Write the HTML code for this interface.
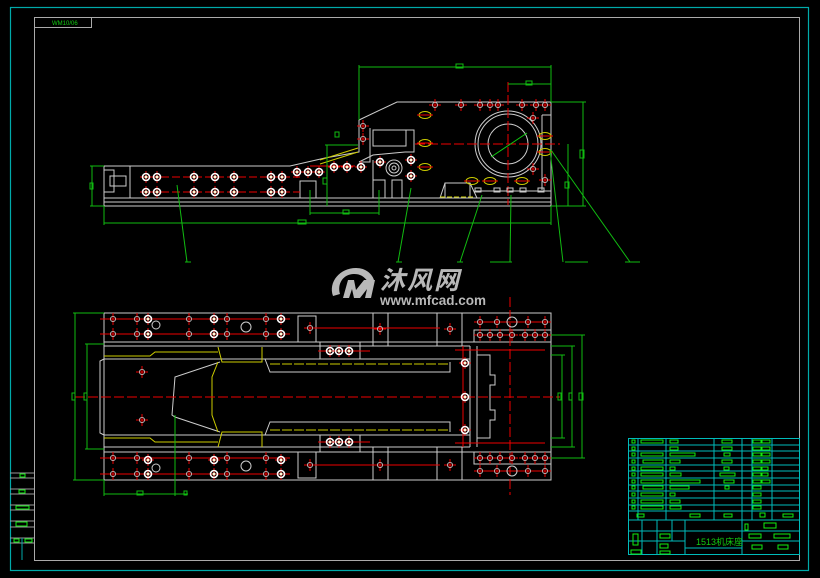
<!DOCTYPE html>
<html><head><meta charset="utf-8"><style>
html,body{margin:0;padding:0;background:#000;}
svg{display:block;}
</style></head><body>
<svg width="820" height="578" viewBox="0 0 820 578" xmlns="http://www.w3.org/2000/svg" font-family="Liberation Sans, sans-serif">
<defs>
<g id="h"><line x1="-6" y1="0" x2="6" y2="0" stroke="#e00" stroke-width="1"/><line x1="0" y1="-6" x2="0" y2="6" stroke="#e00" stroke-width="1"/><circle r="3.5" fill="none" stroke="#fff" stroke-width="1.6"/><circle r="1.5" fill="#ffd"/></g>
<g id="s"><line x1="-6" y1="0" x2="6" y2="0" stroke="#e00"/><line x1="0" y1="-6" x2="0" y2="6" stroke="#e00"/><circle r="2.6" fill="none" stroke="#ccc" stroke-width="0.8"/></g>
<g id="o"><ellipse rx="6" ry="3.5" fill="none" stroke="#cc0" stroke-width="1"/><line x1="-8" y1="0" x2="8" y2="0" stroke="#e00"/></g>
</defs>
<rect width="820" height="578" fill="#000"/>
<!-- frames -->
<rect x="10.5" y="7.5" width="798" height="563" fill="none" stroke="#0aa" stroke-width="1.2"/>
<rect x="34.5" y="17.5" width="765" height="543" fill="none" stroke="#aaa" stroke-width="1"/>
<rect x="34.5" y="17.5" width="57" height="10" fill="none" stroke="#aaa"/>
<text x="52" y="25" font-size="6" fill="#1c1">WM10/06</text>
<!-- left table -->
<g stroke="#999" fill="none">
<line x1="10" y1="473" x2="34" y2="473"/><line x1="10" y1="478" x2="34" y2="478"/>
<line x1="10" y1="489" x2="34" y2="489"/><line x1="10" y1="494" x2="34" y2="494"/>
<line x1="10" y1="505" x2="34" y2="505"/><line x1="10" y1="510" x2="34" y2="510"/>
<line x1="10" y1="521" x2="34" y2="521"/><line x1="10" y1="527" x2="34" y2="527"/>
<line x1="10" y1="538" x2="34" y2="538"/><line x1="10" y1="543" x2="34" y2="543"/>
<line x1="22" y1="538" x2="22" y2="560" stroke="#0aa"/>
</g>
<g fill="none" stroke="#1e1"><rect x="20" y="474" width="5" height="3"/><rect x="19" y="490" width="6" height="3"/><rect x="16" y="506" width="13" height="3"/><rect x="16" y="522" width="11" height="4"/><rect x="14" y="539" width="5" height="3"/><rect x="25" y="539" width="7" height="3"/></g>

<!-- ===== TOP VIEW ===== -->
<g fill="none" stroke="#ccc" stroke-width="1">
<polyline points="104,166 290,166 325,158 359,152 359,120 397,102 551,102 551,206"/>
<line x1="104" y1="166" x2="104" y2="206"/>
<line x1="104" y1="198" x2="551" y2="198"/>
<line x1="104" y1="202" x2="551" y2="202"/>
<line x1="104" y1="206" x2="551" y2="206"/>
<line x1="130" y1="166" x2="130" y2="198"/>
<rect x="373" y="130" width="33" height="16"/>
<polyline points="370,128 370,162 359,162"/>
<polyline points="404,130 414,130 414,152 405,152"/>
<polyline points="359,162 373,155 405,152"/>
<line x1="373" y1="160" x2="373" y2="198"/>
<rect x="300" y="181" width="16" height="17"/><rect x="373" y="180" width="12" height="18"/><rect x="392" y="180" width="10" height="18"/>
<polyline points="440,198 445,183 470,183 477,198"/><rect x="445" y="183" width="25" height="15"/>
<line x1="475" y1="191" x2="551" y2="191"/>
<line x1="542" y1="115" x2="551" y2="115"/><line x1="542" y1="115" x2="542" y2="190"/>
<circle cx="508" cy="144" r="33"/><circle cx="508" cy="144" r="30"/><circle cx="508" cy="144" r="20"/>
<circle cx="394" cy="168" r="8"/><circle cx="394" cy="168" r="5"/><circle cx="394" cy="168" r="2"/>
<rect x="104" y="170" width="10" height="22"/><rect x="110" y="176" width="16" height="10"/>
</g>
<g stroke="#e00" stroke-width="1">
<line x1="150" y1="177" x2="300" y2="177" stroke-dasharray="8,3"/>
<line x1="150" y1="192" x2="300" y2="192" stroke-dasharray="8,3"/>
<line x1="415" y1="144" x2="560" y2="144" stroke-dasharray="10,3"/>
<line x1="508" y1="82" x2="508" y2="205" stroke-dasharray="10,3"/>
<line x1="310" y1="166" x2="355" y2="166"/>
</g>
<line x1="491" y1="157" x2="527" y2="133" stroke="#1c1"/>
<g fill="none" stroke="#cc0"><line x1="320" y1="160" x2="358" y2="148"/><line x1="320" y1="164" x2="358" y2="152"/><line x1="440" y1="197" x2="475" y2="197" stroke-dasharray="5,2"/></g>
<g>
<use href="#h" x="146" y="177"/><use href="#h" x="157" y="177"/><use href="#h" x="194" y="177"/><use href="#h" x="215" y="177"/><use href="#h" x="234" y="177"/><use href="#h" x="271" y="177"/><use href="#h" x="282" y="177"/>
<use href="#h" x="146" y="192"/><use href="#h" x="157" y="192"/><use href="#h" x="194" y="192"/><use href="#h" x="215" y="192"/><use href="#h" x="234" y="192"/><use href="#h" x="271" y="192"/><use href="#h" x="282" y="192"/>
<use href="#h" x="297" y="172"/><use href="#h" x="308" y="172"/><use href="#h" x="319" y="172"/>
<use href="#h" x="334" y="167"/><use href="#h" x="347" y="167"/><use href="#h" x="361" y="167"/>
<use href="#h" x="380" y="162"/><use href="#h" x="411" y="160"/><use href="#h" x="411" y="176"/>
<use href="#s" x="363" y="126"/><use href="#s" x="363" y="139"/><use href="#s" x="435" y="105"/><use href="#s" x="461" y="105"/><use href="#s" x="480" y="105"/><use href="#s" x="490" y="105"/><use href="#s" x="498" y="105"/><use href="#s" x="522" y="105"/><use href="#s" x="536" y="105"/><use href="#s" x="545" y="105"/>
<use href="#s" x="533" y="118"/><use href="#s" x="533" y="169"/><use href="#s" x="545" y="180"/>
<use href="#o" x="425" y="115"/><use href="#o" x="545" y="136"/><use href="#o" x="545" y="152"/><use href="#o" x="472" y="181"/><use href="#o" x="490" y="181"/><use href="#o" x="522" y="181"/><use href="#o" x="425" y="143"/><use href="#o" x="425" y="167"/>
</g>
<g fill="none" stroke="#ccc"><rect x="475" y="188" width="6" height="4"/><rect x="494" y="188" width="6" height="4"/><rect x="507" y="188" width="6" height="4"/><rect x="520" y="188" width="6" height="4"/><rect x="538" y="188" width="6" height="4"/></g>
<!-- top view dims -->
<g stroke="#1b1" fill="none" stroke-width="1">
<line x1="359" y1="67" x2="551" y2="67"/><line x1="359" y1="65" x2="359" y2="120"/><line x1="551" y1="65" x2="551" y2="102"/>
<rect x="456" y="64" width="7" height="4"/>
<line x1="508" y1="84" x2="551" y2="84"/><rect x="526" y="81" width="6" height="4"/>
<line x1="104" y1="223" x2="551" y2="223"/><line x1="104" y1="206" x2="104" y2="225"/><line x1="551" y1="206" x2="551" y2="225"/><rect x="298" y="220" width="8" height="4"/>
<line x1="310" y1="213" x2="379" y2="213"/><line x1="310" y1="190" x2="310" y2="215"/><line x1="379" y1="190" x2="379" y2="215"/><rect x="343" y="210" width="6" height="4"/>
<line x1="92" y1="166" x2="92" y2="206"/><line x1="90" y1="166" x2="104" y2="166"/><line x1="90" y1="206" x2="104" y2="206"/><rect x="90" y="183" width="3" height="6"/>
<line x1="583" y1="102" x2="583" y2="206"/><line x1="551" y1="102" x2="586" y2="102"/><line x1="551" y1="206" x2="586" y2="206"/><rect x="580" y="150" width="4" height="8"/>
<line x1="568" y1="144" x2="568" y2="206"/><rect x="565" y="182" width="4" height="6"/>
<line x1="327" y1="145" x2="327" y2="206"/><line x1="325" y1="145" x2="358" y2="145"/><rect x="335" y="132" width="4" height="5"/><rect x="323" y="178" width="4" height="6"/>
<line x1="177" y1="185" x2="187" y2="262"/>
<line x1="411" y1="188" x2="398" y2="262"/>
<line x1="482" y1="195" x2="460" y2="262"/>
<line x1="511" y1="195" x2="510" y2="262"/>
<line x1="550" y1="150" x2="563" y2="262"/>
<line x1="551" y1="150" x2="630" y2="262"/>
<line x1="185" y1="262" x2="191" y2="262"/><line x1="396" y1="262" x2="402" y2="262"/><line x1="457" y1="262" x2="463" y2="262"/><line x1="490" y1="262" x2="512" y2="262"/><line x1="565" y1="262" x2="588" y2="262"/><line x1="625" y1="262" x2="640" y2="262"/>
</g>

<!-- watermark -->
<g fill="#b8b8b8">
<path d="M333 296 C328 282 340 268 356 268 C366 268 372 274 374 280 L368 282 C364 276 360 274 354 274 C343 274 337 284 340 294 Z"/>
<path d="M343 298 L348 280 L354 280 L356 290 L364 280 L375 280 L371 298 L365 298 L367 289 L360 298 L354 298 L352 289 L349 298 Z"/>
<text x="380" y="289" font-size="25" font-weight="bold" font-style="italic" font-family="Liberation Sans, Noto Sans CJK SC, sans-serif" letter-spacing="2">沐风网</text>
<text x="380" y="305" font-size="13.5" font-weight="bold">www.mfcad.com</text>
</g>

<!-- ===== BOTTOM VIEW ===== -->
<g fill="none" stroke="#ccc" stroke-width="1">
<rect x="104" y="313" width="447" height="167"/>
<line x1="104" y1="342" x2="551" y2="342"/><line x1="104" y1="346" x2="470" y2="346"/>
<line x1="104" y1="447" x2="470" y2="447"/><line x1="104" y1="452" x2="551" y2="452"/>
<polyline points="104,359 100,361 100,433 104,435"/>
<line x1="104" y1="359" x2="470" y2="359"/><line x1="104" y1="435" x2="470" y2="435"/>
<polyline points="265,359 270,372 450,372 450,362"/>
<polyline points="265,435 270,422 450,422 450,432"/>
<polyline points="220,362 175,377 172,415 175,417 220,432"/>
<rect x="320" y="435" width="40" height="17"/><rect x="320" y="342" width="40" height="17"/>
<rect x="298" y="316" width="18" height="26"/><rect x="298" y="452" width="18" height="26"/>
<rect x="373" y="313" width="15" height="33"/><rect x="373" y="447" width="15" height="33"/>
<rect x="437" y="313" width="25" height="33"/><rect x="437" y="447" width="25" height="33"/>
<line x1="470" y1="346" x2="470" y2="447"/><line x1="477" y1="346" x2="477" y2="447"/>
<polyline points="477,355 490,355 490,375 495,375 495,385 490,385 490,410 495,410 495,420 490,420 490,438 477,438"/>
<rect x="474" y="330" width="77" height="12"/><rect x="474" y="452" width="77" height="12"/>
</g>
<g fill="none" stroke="#cc0" stroke-width="1">
<polyline points="104,356 150,356 155,352 218,352"/><polyline points="104,438 150,438 155,442 218,442"/>
<polyline points="218,347 222,362 262,362 262,347"/><polyline points="218,447 222,432 262,432 262,447"/>
<polyline points="218,362 212,377 212,415 218,432"/>
<line x1="270" y1="364" x2="450" y2="364" stroke-dasharray="10,2"/><line x1="270" y1="430" x2="450" y2="430" stroke-dasharray="10,2"/>
</g>
<g stroke="#e00" stroke-width="1">
<line x1="75" y1="397" x2="560" y2="397" stroke-dasharray="10,3"/>
<line x1="510" y1="297" x2="510" y2="495" stroke-dasharray="10,3"/>
<line x1="100" y1="319" x2="290" y2="319"/><line x1="100" y1="334" x2="290" y2="334"/>
<line x1="100" y1="458" x2="290" y2="458"/><line x1="100" y1="474" x2="290" y2="474"/>
<line x1="475" y1="322" x2="551" y2="322"/><line x1="475" y1="471" x2="551" y2="471"/>
<line x1="318" y1="351" x2="370" y2="351"/><line x1="318" y1="442" x2="370" y2="442"/>
<line x1="463" y1="346" x2="463" y2="447"/>
<line x1="310" y1="328" x2="440" y2="328"/><line x1="310" y1="465" x2="440" y2="465"/>
<line x1="455" y1="350" x2="545" y2="350"/><line x1="455" y1="443" x2="545" y2="443"/>
</g>
<g>
<use href="#s" x="113" y="319"/><use href="#s" x="137" y="319"/><use href="#h" x="148" y="319"/><use href="#s" x="189" y="319"/><use href="#h" x="214" y="319"/><use href="#s" x="227" y="319"/><use href="#s" x="266" y="319"/><use href="#h" x="281" y="319"/>
<use href="#s" x="113" y="334"/><use href="#s" x="137" y="334"/><use href="#h" x="148" y="334"/><use href="#s" x="189" y="334"/><use href="#h" x="214" y="334"/><use href="#s" x="227" y="334"/><use href="#s" x="266" y="334"/><use href="#h" x="281" y="334"/>
<use href="#s" x="113" y="458"/><use href="#s" x="137" y="458"/><use href="#h" x="148" y="460"/><use href="#s" x="189" y="458"/><use href="#h" x="214" y="460"/><use href="#s" x="227" y="458"/><use href="#s" x="266" y="458"/><use href="#h" x="281" y="460"/>
<use href="#s" x="113" y="474"/><use href="#s" x="137" y="474"/><use href="#h" x="148" y="474"/><use href="#s" x="189" y="474"/><use href="#h" x="214" y="474"/><use href="#s" x="227" y="474"/><use href="#s" x="266" y="474"/><use href="#h" x="281" y="474"/>
<use href="#h" x="330" y="351"/><use href="#h" x="339" y="351"/><use href="#h" x="349" y="351"/>
<use href="#h" x="330" y="442"/><use href="#h" x="339" y="442"/><use href="#h" x="349" y="442"/>
<use href="#h" x="465" y="363"/><use href="#h" x="465" y="397"/><use href="#h" x="465" y="430"/>
<use href="#s" x="142" y="372"/><use href="#s" x="142" y="420"/>
<use href="#s" x="310" y="328"/><use href="#s" x="310" y="465"/><use href="#s" x="380" y="329"/><use href="#s" x="380" y="465"/><use href="#s" x="450" y="329"/><use href="#s" x="450" y="465"/>
<use href="#s" x="480" y="322"/><use href="#s" x="497" y="322"/><use href="#s" x="528" y="322"/><use href="#s" x="545" y="322"/>
<use href="#s" x="480" y="471"/><use href="#s" x="497" y="471"/><use href="#s" x="528" y="471"/><use href="#s" x="545" y="471"/>
<use href="#s" x="480" y="335"/><use href="#s" x="490" y="335"/><use href="#s" x="500" y="335"/><use href="#s" x="512" y="335"/><use href="#s" x="525" y="335"/><use href="#s" x="535" y="335"/><use href="#s" x="545" y="335"/>
<use href="#s" x="480" y="458"/><use href="#s" x="490" y="458"/><use href="#s" x="500" y="458"/><use href="#s" x="512" y="458"/><use href="#s" x="525" y="458"/><use href="#s" x="535" y="458"/><use href="#s" x="545" y="458"/>
</g>
<g fill="none" stroke="#ccc"><circle cx="156" cy="325" r="4"/><circle cx="246" cy="327" r="5"/><circle cx="156" cy="468" r="4"/><circle cx="246" cy="466" r="5"/><circle cx="512" cy="322" r="5"/><circle cx="512" cy="471" r="5"/></g>
<!-- bottom dims -->
<g stroke="#1b1" fill="none">
<line x1="75" y1="313" x2="75" y2="480"/><line x1="73" y1="313" x2="104" y2="313"/><line x1="73" y1="480" x2="104" y2="480"/><rect x="72" y="393" width="3" height="7"/>
<line x1="87" y1="344" x2="87" y2="449"/><line x1="85" y1="344" x2="104" y2="344"/><line x1="85" y1="449" x2="104" y2="449"/><rect x="84" y="393" width="3" height="7"/>
<line x1="582" y1="335" x2="582" y2="458"/><line x1="551" y1="335" x2="585" y2="335"/><line x1="551" y1="458" x2="585" y2="458"/><rect x="579" y="393" width="4" height="7"/>
<line x1="572" y1="346" x2="572" y2="447"/><line x1="551" y1="346" x2="575" y2="346"/><line x1="551" y1="447" x2="575" y2="447"/><rect x="569" y="393" width="3" height="7"/>
<line x1="562" y1="355" x2="562" y2="438"/><line x1="551" y1="355" x2="565" y2="355"/><line x1="551" y1="438" x2="565" y2="438"/><rect x="558" y="393" width="3" height="7"/>
<line x1="175" y1="415" x2="175" y2="496"/><line x1="104" y1="494" x2="188" y2="494"/><line x1="104" y1="480" x2="104" y2="496"/><rect x="137" y="491" width="6" height="4"/><rect x="184" y="491" width="3" height="4"/>
</g>

<!-- title block -->
<g stroke="#0bb" fill="none" stroke-width="1">
<rect x="628.5" y="438.5" width="171" height="116"/>
<line x1="628" y1="445" x2="800" y2="445"/><line x1="628" y1="451" x2="800" y2="451"/><line x1="628" y1="458" x2="800" y2="458"/><line x1="628" y1="465" x2="800" y2="465"/><line x1="628" y1="471" x2="800" y2="471"/><line x1="628" y1="478" x2="800" y2="478"/><line x1="628" y1="485" x2="800" y2="485"/><line x1="628" y1="491" x2="800" y2="491"/><line x1="628" y1="498" x2="800" y2="498"/><line x1="628" y1="505" x2="800" y2="505"/><line x1="628" y1="511" x2="800" y2="511"/><line x1="628" y1="520" x2="800" y2="520"/>
<line x1="638" y1="438" x2="638" y2="520"/><line x1="666" y1="438" x2="666" y2="520"/><line x1="714" y1="438" x2="714" y2="520"/><line x1="742" y1="438" x2="742" y2="555"/><line x1="752" y1="438" x2="752" y2="520"/><line x1="772" y1="438" x2="772" y2="520"/>
<line x1="628" y1="531" x2="800" y2="531"/><line x1="628" y1="541" x2="685" y2="541"/><line x1="685" y1="520" x2="685" y2="555"/><line x1="685" y1="548" x2="742" y2="548"/><line x1="742" y1="541" x2="800" y2="541"/>
<line x1="642" y1="520" x2="642" y2="555"/><line x1="657" y1="520" x2="657" y2="555"/><line x1="672" y1="520" x2="672" y2="541"/>
</g>
<g stroke="#1e1" fill="none">
<rect x="632" y="440" width="3" height="3"/><rect x="632" y="447" width="3" height="3"/><rect x="632" y="453" width="3" height="3"/><rect x="632" y="460" width="3" height="3"/><rect x="632" y="467" width="3" height="3"/><rect x="632" y="473" width="3" height="3"/><rect x="632" y="480" width="3" height="3"/><rect x="632" y="486" width="3" height="3"/><rect x="632" y="493" width="3" height="3"/><rect x="632" y="500" width="3" height="3"/><rect x="632" y="506" width="3" height="3"/>
<rect x="641" y="440" width="22" height="3"/><rect x="641" y="453" width="22" height="3"/><rect x="643" y="460" width="20" height="3"/><rect x="641" y="467" width="22" height="3"/><rect x="641" y="473" width="22" height="3"/><rect x="641" y="480" width="22" height="3"/><rect x="643" y="486" width="20" height="3"/><rect x="641" y="493" width="22" height="3"/><rect x="641" y="500" width="22" height="3"/><rect x="641" y="506" width="22" height="3"/>
<rect x="670" y="440" width="8" height="3"/><rect x="670" y="447" width="8" height="3"/><rect x="670" y="453" width="25" height="3"/><rect x="670" y="460" width="10" height="3"/><rect x="670" y="467" width="5" height="3"/><rect x="670" y="473" width="11" height="3"/><rect x="670" y="480" width="30" height="3"/><rect x="670" y="486" width="19" height="3"/><rect x="670" y="493" width="5" height="3"/><rect x="670" y="500" width="10" height="3"/><rect x="670" y="506" width="11" height="3"/>
<rect x="722" y="440" width="10" height="3"/><rect x="722" y="447" width="10" height="3"/><rect x="724" y="453" width="6" height="3"/><rect x="722" y="460" width="10" height="3"/><rect x="724" y="467" width="5" height="3"/><rect x="720" y="473" width="15" height="3"/><rect x="724" y="480" width="10" height="3"/><rect x="725" y="486" width="4" height="3"/>
<rect x="753" y="440" width="8" height="3"/><rect x="762" y="440" width="8" height="3"/><rect x="753" y="447" width="8" height="3"/><rect x="762" y="447" width="8" height="3"/><rect x="753" y="453" width="8" height="3"/><rect x="762" y="453" width="8" height="3"/><rect x="753" y="460" width="8" height="3"/><rect x="762" y="460" width="8" height="3"/><rect x="753" y="467" width="8" height="3"/><rect x="762" y="467" width="6" height="3"/><rect x="753" y="473" width="8" height="3"/><rect x="762" y="473" width="6" height="3"/><rect x="753" y="480" width="8" height="3"/><rect x="762" y="480" width="8" height="3"/><rect x="753" y="486" width="8" height="3"/><rect x="753" y="493" width="8" height="3"/><rect x="753" y="500" width="8" height="3"/><rect x="753" y="506" width="8" height="3"/><rect x="760" y="513" width="5" height="4"/>
<rect x="690" y="514" width="10" height="3"/><rect x="637" y="514" width="7" height="3"/><rect x="724" y="514" width="8" height="3"/><rect x="783" y="514" width="10" height="3"/>
<rect x="749" y="534" width="12" height="4"/><rect x="774" y="534" width="16" height="4"/><rect x="752" y="545" width="10" height="4"/><rect x="778" y="545" width="10" height="4"/><rect x="745" y="524" width="3" height="6"/>
<rect x="633" y="534" width="5" height="11"/><rect x="660" y="534" width="10" height="4"/><rect x="660" y="544" width="8" height="4"/><rect x="631" y="550" width="10" height="4"/><rect x="660" y="551" width="10" height="3"/>
<rect x="764" y="523" width="12" height="5"/>
</g>
<text x="696" y="545" font-size="9" fill="#1c1" font-family="Liberation Sans, Noto Sans CJK SC, sans-serif">1513机床座</text>
</svg>
</body></html>
